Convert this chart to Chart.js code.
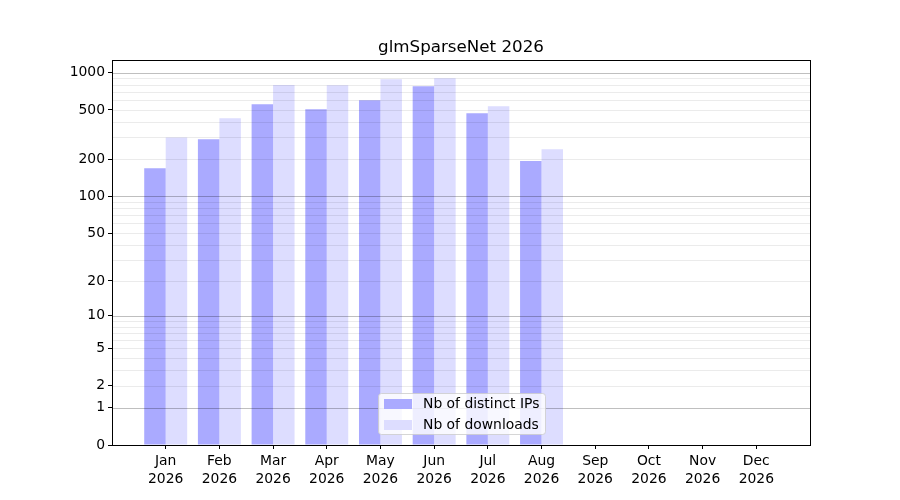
<!DOCTYPE html>
<html>
<head>
<meta charset="utf-8">
<script src="https://cdn.jsdelivr.net/npm/chart.js@4/dist/chart.umd.min.js"></script>
<style>
  body { margin: 0; background: #fff; }
  canvas { display: block; }
</style>
</head>
<body>
<canvas id="stats" width="900" height="500"></canvas>
<script>
// data
var months = ['Jan', 'Feb', 'Mar', 'Apr', 'May', 'Jun', 'Jul', 'Aug', 'Sep', 'Oct', 'Nov', 'Dec'];
var year = '2026';
var distinctIPs = [169, 290, 556, 507, 599, 776, 470, 193];
var downloads = [300, 429, 796, 792, 884, 900, 535, 241];
var seriesNames = ['Nb of distinct IPs', 'Nb of downloads'];
var yTickValues = [0, 1, 2, 5, 10, 20, 50, 100, 200, 500, 1000];
var title = 'glmSparseNet 2026';

var colIPs = 'rgb(170, 170, 255)';
var colDl = 'rgb(221, 221, 255)';
var FONT = '"DejaVu Sans", sans-serif';

// y axis is log10(1 + v)
function tr(v) { return Math.log10(1 + v); }

function points(arr) {
    return arr.map(function(v, i) { return { x: i, y: tr(v) }; });
}

var yMax = 1.05 * tr(Math.max.apply(null, distinctIPs.concat(downloads)));

var overlay = {
    id: 'overlay',
    afterDatasetsDraw: function(chart) {
        var ctx = chart.ctx, a = chart.chartArea, y = chart.scales.y;
        ctx.save();
        ctx.lineWidth = 1;
        // minor grid
        ctx.strokeStyle = 'rgba(0,0,0,0.08)';
        [1, 10, 100].forEach(function(d) {
            for (var k = 2; k <= 9; k++) {
                var py = Math.round(y.getPixelForValue(tr(k * d))) + 0.5;
                if (py < a.top) continue;
                ctx.beginPath(); ctx.moveTo(a.left, py); ctx.lineTo(a.right, py); ctx.stroke();
            }
        });
        // major grid
        ctx.strokeStyle = 'rgba(0,0,0,0.25)';
        [1, 10, 100, 1000].forEach(function(v) {
            var py = Math.round(y.getPixelForValue(tr(v))) + 0.5;
            ctx.beginPath(); ctx.moveTo(a.left, py); ctx.lineTo(a.right, py); ctx.stroke();
        });
        ctx.restore();
    },
    afterDraw: function(chart) {
        var ctx = chart.ctx, a = chart.chartArea;
        ctx.save();
        // spines
        ctx.strokeStyle = '#000';
        ctx.lineWidth = 1;
        ctx.strokeRect(Math.round(a.left) + 0.5, Math.round(a.top) + 0.5,
            Math.round(a.right - a.left), Math.round(a.bottom - a.top));

        // title
        ctx.fillStyle = '#000';
        ctx.font = '16.7px ' + FONT;
        ctx.textAlign = 'center';
        ctx.textBaseline = 'alphabetic';
        ctx.fillText(title, (a.left + a.right) / 2, a.top - 8);

        // legend
        var lx = 378.5, ly = 393.5, lw = 167, lh = 41;
        ctx.beginPath();
        ctx.roundRect(lx, ly, lw, lh, 3);
        ctx.fillStyle = 'rgba(255,255,255,0.8)';
        ctx.fill();
        ctx.strokeStyle = 'rgba(204,204,204,0.8)';
        ctx.stroke();
        var cols = [colIPs, colDl];
        ctx.font = '13.9px ' + FONT;
        ctx.textAlign = 'left';
        ctx.textBaseline = 'middle';
        seriesNames.forEach(function(name, i) {
            var cy = 404 + i * 21;
            ctx.fillStyle = cols[i];
            ctx.fillRect(384, cy - 5, 28, 10);
            ctx.fillStyle = '#000';
            ctx.fillText(name, 423, cy);
        });
        ctx.restore();
    }
};

var ctx = document.getElementById('stats').getContext('2d');

var stats = new Chart(ctx, {
    type: 'bar',
    data: {
        datasets: [{
            label: seriesNames[0],
            data: points(distinctIPs),
            backgroundColor: colIPs,
            borderWidth: 0
        },
            {
                label: seriesNames[1],
                data: points(downloads),
                backgroundColor: colDl,
                borderWidth: 0
            }]
    },
    plugins: [overlay],
    options: {
        responsive: false,
        animation: false,
        devicePixelRatio: 1,
        categoryPercentage: 0.8,
        barPercentage: 1.0,
        layout: {
            padding: { left: 0, right: 90, top: 60, bottom: 0 }
        },
        plugins: {
            legend: { display: false },
            title: { display: false },
            tooltip: { enabled: false }
        },
        scales: {
            x: {
                type: 'linear',
                min: -1,
                max: 12,
                offset: false,
                afterBuildTicks: function(scale) {
                    scale.ticks = months.map(function(m, i) { return { value: i }; });
                },
                afterFit: function(scale) { scale.height = 55; },
                grid: { offset: false, color: 'rgba(0,0,0,0)', tickColor: '#000', tickLength: 4, drawTicks: true },
                border: { display: false },
                ticks: {
                    autoSkip: false,
                    maxRotation: 0,
                    padding: 4,
                    color: '#000',
                    font: { family: FONT, size: 13.9, lineHeight: 1.25 },
                    callback: function(v) { return [months[v], year]; }
                }
            },
            y: {
                type: 'linear',
                min: 0,
                max: yMax,
                afterBuildTicks: function(scale) {
                    scale.ticks = yTickValues.map(function(v) { return { value: tr(v) }; });
                },
                afterFit: function(scale) { scale.width = 112; },
                grid: { color: 'rgba(0,0,0,0)', tickColor: '#000', tickLength: 4, drawTicks: true },
                border: { display: false },
                ticks: {
                    padding: 3,
                    color: '#000',
                    font: { family: FONT, size: 13.9 },
                    callback: function(v, i) { return String(yTickValues[i]); }
                }
            }
        }
    }
});
</script>
</body>
</html>
